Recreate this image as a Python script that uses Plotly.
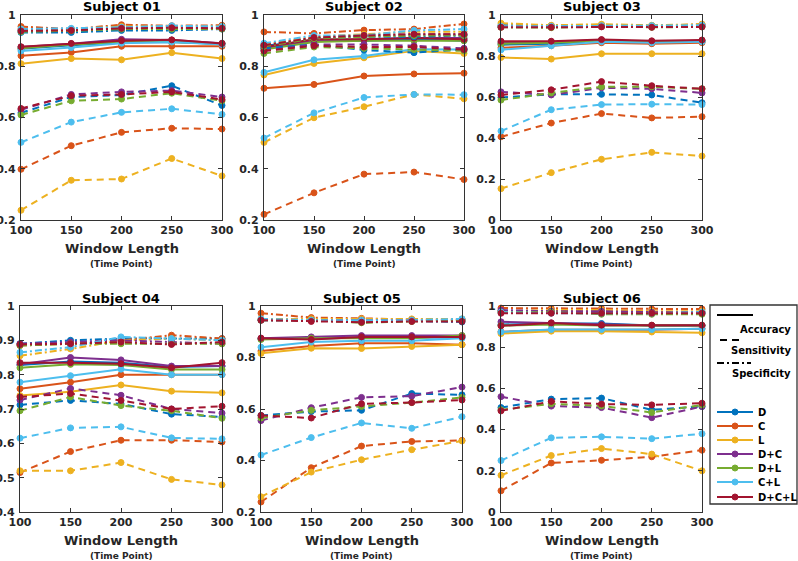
import plotly.graph_objects as go

# ---------------- data ----------------
WINDOW_LENGTHS = [100, 150, 200, 250, 300]
FEATURE_SETS = ["D", "C", "L", "D+C", "D+L", "C+L", "D+C+L"]
COLORS = ["#0072BD", "#D95319", "#EDB120", "#7E2F8E", "#77AC30", "#4DBEEE", "#A2142F"]
METRICS = ["Accuracy", "Sensitivity", "Specificity"]
SUBJECT_TITLES = ["Subject 01", "Subject 02", "Subject 03", "Subject 04", "Subject 05", "Subject 06"]
X_TICKS = [100, 150, 200, 250, 300]

# rows follow FEATURE_SETS order: D, C, L, D+C, D+L, C+L, D+C+L
S01_ACC = [[0.868, 0.882, 0.893, 0.895, 0.887], [0.841, 0.854, 0.878, 0.878, 0.878],
           [0.810, 0.830, 0.825, 0.853, 0.830], [0.875, 0.888, 0.905, 0.902, 0.890],
           [0.870, 0.885, 0.895, 0.895, 0.888], [0.860, 0.873, 0.890, 0.895, 0.885],
           [0.876, 0.889, 0.900, 0.903, 0.889]]
S01_SENS = [[0.618, 0.680, 0.688, 0.724, 0.647], [0.398, 0.490, 0.542, 0.558, 0.555],
            [0.238, 0.355, 0.360, 0.440, 0.372], [0.630, 0.690, 0.700, 0.705, 0.680],
            [0.610, 0.665, 0.672, 0.695, 0.665], [0.503, 0.582, 0.620, 0.634, 0.612],
            [0.635, 0.685, 0.690, 0.700, 0.670]]
S01_SPEC = [[0.932, 0.932, 0.940, 0.940, 0.945], [0.955, 0.945, 0.962, 0.958, 0.960],
            [0.945, 0.945, 0.955, 0.955, 0.955], [0.940, 0.940, 0.950, 0.950, 0.950],
            [0.935, 0.938, 0.945, 0.945, 0.945], [0.945, 0.948, 0.952, 0.958, 0.955],
            [0.938, 0.940, 0.948, 0.950, 0.948]]

S02_ACC = [[0.880, 0.900, 0.900, 0.905, 0.900], [0.714, 0.729, 0.762, 0.770, 0.773],
           [0.766, 0.811, 0.833, 0.860, 0.850], [0.870, 0.900, 0.905, 0.910, 0.910],
           [0.865, 0.895, 0.900, 0.900, 0.900], [0.776, 0.825, 0.840, 0.866, 0.865],
           [0.875, 0.905, 0.905, 0.910, 0.905]]
S02_SENS = [[0.870, 0.885, 0.863, 0.853, 0.866], [0.222, 0.306, 0.379, 0.387, 0.358],
            [0.503, 0.599, 0.642, 0.690, 0.673], [0.860, 0.885, 0.885, 0.880, 0.870],
            [0.850, 0.875, 0.870, 0.865, 0.860], [0.520, 0.618, 0.678, 0.690, 0.689],
            [0.860, 0.880, 0.875, 0.875, 0.865]]
S02_SPEC = [[0.885, 0.910, 0.915, 0.915, 0.920], [0.934, 0.928, 0.941, 0.945, 0.965],
            [0.885, 0.915, 0.925, 0.935, 0.935], [0.880, 0.910, 0.920, 0.925, 0.925],
            [0.878, 0.908, 0.915, 0.920, 0.920], [0.890, 0.920, 0.920, 0.940, 0.945],
            [0.882, 0.912, 0.920, 0.925, 0.925]]

S03_ACC = [[0.855, 0.860, 0.870, 0.865, 0.870], [0.840, 0.850, 0.865, 0.860, 0.865],
           [0.793, 0.785, 0.811, 0.811, 0.811], [0.865, 0.868, 0.878, 0.870, 0.875],
           [0.860, 0.865, 0.875, 0.870, 0.875], [0.830, 0.850, 0.870, 0.865, 0.870],
           [0.872, 0.872, 0.880, 0.874, 0.878]]
S03_SENS = [[0.598, 0.613, 0.613, 0.610, 0.572], [0.406, 0.473, 0.519, 0.498, 0.504],
            [0.153, 0.231, 0.296, 0.330, 0.312], [0.625, 0.610, 0.645, 0.640, 0.620],
            [0.585, 0.620, 0.650, 0.650, 0.640], [0.434, 0.538, 0.563, 0.565, 0.563],
            [0.610, 0.635, 0.675, 0.655, 0.640]]
S03_SPEC = [[0.950, 0.948, 0.950, 0.948, 0.950], [0.945, 0.945, 0.950, 0.945, 0.955],
            [0.960, 0.950, 0.955, 0.950, 0.955], [0.942, 0.942, 0.945, 0.942, 0.945],
            [0.940, 0.938, 0.945, 0.940, 0.942], [0.945, 0.945, 0.948, 0.948, 0.950],
            [0.940, 0.940, 0.942, 0.940, 0.942]]

S04_ACC = [[0.828, 0.838, 0.835, 0.822, 0.825], [0.759, 0.778, 0.800, 0.800, 0.800],
           [0.739, 0.750, 0.770, 0.752, 0.747], [0.830, 0.850, 0.843, 0.825, 0.825],
           [0.820, 0.830, 0.828, 0.815, 0.815], [0.778, 0.797, 0.816, 0.800, 0.800],
           [0.835, 0.835, 0.832, 0.820, 0.835]]
S04_SENS = [[0.712, 0.725, 0.715, 0.685, 0.677], [0.515, 0.576, 0.609, 0.609, 0.604],
            [0.520, 0.520, 0.544, 0.495, 0.479], [0.726, 0.760, 0.740, 0.700, 0.688],
            [0.695, 0.735, 0.710, 0.695, 0.673], [0.615, 0.645, 0.648, 0.616, 0.613],
            [0.735, 0.745, 0.725, 0.700, 0.708]]
S04_SPEC = [[0.890, 0.900, 0.905, 0.905, 0.905], [0.885, 0.890, 0.900, 0.915, 0.905],
            [0.855, 0.875, 0.900, 0.905, 0.900], [0.890, 0.895, 0.900, 0.895, 0.890],
            [0.885, 0.890, 0.890, 0.890, 0.890], [0.865, 0.880, 0.910, 0.905, 0.900],
            [0.888, 0.890, 0.895, 0.888, 0.895]]

S05_ACC = [[0.872, 0.873, 0.878, 0.878, 0.878], [0.825, 0.845, 0.855, 0.855, 0.850],
           [0.816, 0.836, 0.835, 0.843, 0.850], [0.875, 0.880, 0.885, 0.885, 0.885],
           [0.870, 0.875, 0.875, 0.875, 0.885], [0.840, 0.860, 0.865, 0.865, 0.875],
           [0.875, 0.870, 0.880, 0.880, 0.880]]
S05_SENS = [[0.575, 0.590, 0.595, 0.660, 0.655], [0.239, 0.372, 0.456, 0.474, 0.478],
            [0.259, 0.355, 0.403, 0.442, 0.476], [0.555, 0.605, 0.645, 0.650, 0.685],
            [0.565, 0.595, 0.610, 0.625, 0.645], [0.421, 0.489, 0.546, 0.525, 0.570],
            [0.575, 0.565, 0.620, 0.625, 0.635]]
S05_SPEC = [[0.945, 0.945, 0.943, 0.942, 0.938], [0.972, 0.955, 0.952, 0.948, 0.948],
            [0.950, 0.950, 0.950, 0.950, 0.950], [0.945, 0.945, 0.945, 0.945, 0.945],
            [0.945, 0.945, 0.935, 0.940, 0.945], [0.950, 0.945, 0.945, 0.945, 0.950],
            [0.945, 0.940, 0.937, 0.940, 0.940]]

S06_ACC = [[0.910, 0.915, 0.915, 0.905, 0.905], [0.875, 0.885, 0.885, 0.885, 0.890],
           [0.866, 0.878, 0.878, 0.874, 0.870], [0.923, 0.918, 0.910, 0.905, 0.905],
           [0.905, 0.910, 0.905, 0.905, 0.905], [0.874, 0.886, 0.886, 0.886, 0.890],
           [0.904, 0.918, 0.907, 0.907, 0.907]]
S06_SENS = [[0.507, 0.548, 0.553, 0.496, 0.512], [0.103, 0.238, 0.251, 0.268, 0.300],
            [0.178, 0.274, 0.308, 0.281, 0.200], [0.560, 0.514, 0.507, 0.458, 0.512],
            [0.496, 0.525, 0.515, 0.483, 0.520], [0.250, 0.360, 0.365, 0.356, 0.380],
            [0.491, 0.537, 0.524, 0.520, 0.528]]
S06_SPEC = [[0.975, 0.970, 0.970, 0.965, 0.965], [0.990, 0.988, 0.988, 0.985, 0.985],
            [0.975, 0.980, 0.980, 0.975, 0.975], [0.980, 0.975, 0.975, 0.970, 0.970],
            [0.970, 0.970, 0.960, 0.960, 0.960], [0.970, 0.965, 0.965, 0.965, 0.970],
            [0.965, 0.965, 0.965, 0.965, 0.965]]

SUBJECT_DATA = [
    (S01_ACC, S01_SENS, S01_SPEC), (S02_ACC, S02_SENS, S02_SPEC), (S03_ACC, S03_SENS, S03_SPEC),
    (S04_ACC, S04_SENS, S04_SPEC), (S05_ACC, S05_SENS, S05_SPEC), (S06_ACC, S06_SENS, S06_SPEC),
]
Y_RANGES = [[0.2, 1], [0.2, 1], [0, 1], [0.4, 1], [0.2, 1], [0, 1]]
Y_TICKS = [
    [0.2, 0.4, 0.6, 0.8, 1.0], [0.2, 0.4, 0.6, 0.8, 1.0], [0, 0.2, 0.4, 0.6, 0.8, 1.0],
    [0.4, 0.5, 0.6, 0.7, 0.8, 0.9, 1.0], [0.2, 0.4, 0.6, 0.8, 1.0], [0, 0.2, 0.4, 0.6, 0.8, 1.0],
]

# ---------------- layout helpers ----------------
W, H = 798, 561
FONT = "DejaVu Sans"
AXCOL = "#333333"
TXT = "#262626"
DASHES = {"Accuracy": "solid", "Sensitivity": "7px,5px", "Specificity": "7px,3px,2px,3px"}


def px(x):
    return x / W


def py(y):
    return 1 - y / H


# pixel boxes of the six plot areas: (left, right, top, bottom)
BOXES = [(21, 222, 15, 220), (264, 464, 15, 220), (501, 702, 15, 220),
         (20, 222, 306, 512), (261, 462, 306, 512), (501, 702, 306, 512)]


def fmt(v):
    s = ("%.1f" % v)
    if s.endswith(".0"):
        s = s[:-2]
    return s


fig = go.Figure()
annotations = []
shapes = []


def note(text, x, y, size, color="black", xanchor="center"):
    annotations.append(dict(text=text, x=px(x), y=py(y), xref="paper", yref="paper",
                            xanchor=xanchor, yanchor="middle", showarrow=False,
                            font=dict(family=FONT, size=size, color=color)))


for i, (box, data) in enumerate(zip(BOXES, SUBJECT_DATA)):
    n = i + 1
    xa = "x" if n == 1 else "x%d" % n
    ya = "y" if n == 1 else "y%d" % n
    l, r, t, b = box
    for metric, table in zip(METRICS, data):
        for name, color, vals in zip(FEATURE_SETS, COLORS, table):
            fig.add_trace(go.Scatter(
                x=WINDOW_LENGTHS, y=vals, xaxis=xa, yaxis=ya, mode="lines+markers",
                line=dict(color=color, width=2, dash=DASHES[metric]),
                marker=dict(symbol="circle", size=6, color=color, line=dict(color=color, width=1)),
                cliponaxis=False, showlegend=False, name=name + " " + metric,
            ))
    axis_common = dict(showline=True, linecolor=AXCOL, linewidth=1.3, mirror="ticks",
                       ticks="inside", ticklen=4, tickwidth=1, tickcolor=AXCOL,
                       showgrid=False, zeroline=False, automargin=False,
                       tickfont=dict(family=FONT, size=11, color=TXT, weight="bold"))
    fig.layout["xaxis%d" % n] = dict(domain=[px(l), px(r)], anchor=ya, range=[100, 300],
                                      tickvals=X_TICKS, ticktext=[str(v) for v in X_TICKS],
                                      **axis_common)
    fig.layout["yaxis%d" % n] = dict(domain=[py(b), py(t)], anchor=xa, range=Y_RANGES[i],
                                      tickvals=Y_TICKS[i], ticktext=[fmt(v) for v in Y_TICKS[i]],
                                      ticklabelstandoff=2, **axis_common)
    cx = (l + r) / 2
    note("<b>%s</b>" % SUBJECT_TITLES[i], cx, t - 8, 13)
    note("<b>Window Length</b>", cx, b + 28, 13, TXT)
    note("<b>(Time Point)</b>", cx, b + 44, 9, TXT)

# ---------------- legend (drawn) ----------------
shapes.append(dict(type="rect", xref="paper", yref="paper", x0=px(710), x1=px(797),
                   y0=py(504), y1=py(305), line=dict(color=AXCOL, width=1.3),
                   fillcolor="white", layer="above"))
style_rows = [("Accuracy", 315, 329, 717, 753), ("Sensitivity", 340, 351, 720, 742),
              ("Specificity", 363, 373, 717, 751)]
for metric, ly, ty, x0, x1 in style_rows:
    shapes.append(dict(type="line", xref="paper", yref="paper", x0=px(x0), x1=px(x1),
                       y0=py(ly), y1=py(ly), line=dict(color="black", width=2,
                                                        dash=DASHES[metric])))
    note("<b>%s</b>" % metric, 793, ty, 10, xanchor="right")
legend_y = [412, 426, 440, 454, 468, 482, 497]
for name, color, ly in zip(FEATURE_SETS, COLORS, legend_y):
    shapes.append(dict(type="line", xref="paper", yref="paper", x0=px(717), x1=px(753),
                       y0=py(ly), y1=py(ly), line=dict(color=color, width=2)))
    shapes.append(dict(type="circle", xref="paper", yref="paper", x0=px(732), x1=px(738),
                       y0=py(ly + 3), y1=py(ly - 3), line=dict(color=color, width=1),
                       fillcolor=color))
    note("<b>%s</b>" % name, 756, ly, 10, xanchor="left")

fig.update_layout(width=W, height=H, margin=dict(l=0, r=0, t=0, b=0, autoexpand=False),
                  paper_bgcolor="white", plot_bgcolor="white", showlegend=False,
                  annotations=annotations, shapes=shapes)

fig.write_html("out.html", config={"displayModeBar": False},
               post_script="document.body.style.margin='0';document.body.style.overflow='hidden';")
